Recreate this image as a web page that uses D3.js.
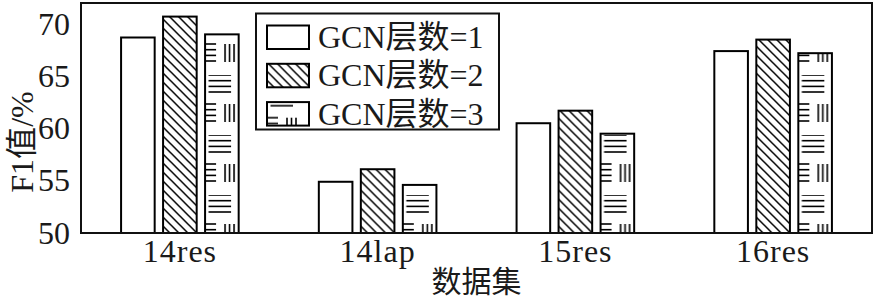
<!DOCTYPE html>
<html>
<head>
<meta charset="utf-8">
<script src="https://cdn.jsdelivr.net/npm/d3@7/dist/d3.min.js"></script>
<style>
  body { margin: 0; background: #fff; }
  svg text { font-family: "Liberation Serif", "Noto Sans CJK SC", serif; fill: #1a1a1a; }
</style>
</head>
<body>
<svg id="chart" width="875" height="300"></svg>
<script>
var categories = ['14res', '14lap', '15res', '16res'];
var series = ['GCN层数=1', 'GCN层数=2', 'GCN层数=3'];
var layer1 = [68.7, 54.9, 60.5, 67.4];
var layer2 = [70.7, 56.1, 61.7, 68.5];
var layer3 = [69.0, 54.6, 59.5, 67.2];
var yTicks = [50, 55, 60, 65, 70];

var values = [layer1, layer2, layer3];
var plotLeft = 81, plotRight = 872, plotTop = 3, plotBottom = 233;

var svg = d3.select('#chart');
var defs = svg.append('defs');

var x0 = d3.scaleBand().domain(categories).range([plotLeft, plotRight]);
var x1 = d3.scaleBand().domain(series).range([-63, 63]).paddingInner(0.2).paddingOuter(0.1);
var y = d3.scaleLinear().domain([50, 72]).range([plotBottom, plotTop]);

// diagonal hatch
var hatch = defs.append('pattern')
    .attr('id', 'hatch')
    .attr('patternUnits', 'userSpaceOnUse')
    .attr('width', 9).attr('height', 9);
hatch.append('path')
    .attr('d', 'M0,0L9,9M-2,7L2,11M7,-2L11,2')
    .attr('stroke', '#000').attr('stroke-width', 1.5);

// line-block pattern (coords are in the local space of the element using it)
function brick(id, x, yOrigin) {
    var p = defs.append('pattern')
        .attr('id', id)
        .attr('patternUnits', 'userSpaceOnUse')
        .attr('x', x).attr('y', yOrigin)
        .attr('width', 80).attr('height', 60);
    var g = p.append('g').attr('stroke', '#000').attr('stroke-width', 1.6);
    [0, 5.7, 11.4, 17].forEach(function(d) {
        g.append('line').attr('x1', 3.5).attr('x2', 26).attr('y1', d).attr('y2', d);
        g.append('line').attr('x1', 0).attr('x2', 11).attr('y1', d + 29).attr('y2', d + 29);
    });
    [20, 24.5, 29].forEach(function(d) {
        g.append('line').attr('x1', d).attr('x2', d).attr('y1', 29).attr('y2', 47);
    });
}

brick('brick', x1(series[2]), 15);
var fills = ['#fff', 'url(#hatch)', 'url(#brick)'];

// bars
var groups = svg.selectAll('.grp').data(categories).enter().append('g')
    .attr('class', 'grp')
    .attr('transform', function(d) { return 'translate(' + (x0(d) + x0.bandwidth() / 2) + ',0)'; });

groups.selectAll('rect')
    .data(function(c, ci) {
        return series.map(function(s, si) { return { s: s, si: si, v: values[si][ci] }; });
    })
    .enter().append('rect')
    .attr('x', function(d) { return x1(d.s); })
    .attr('y', function(d) { return y(d.v); })
    .attr('width', x1.bandwidth())
    .attr('height', function(d) { return y(50) - y(d.v); })
    .attr('fill', function(d) { return fills[d.si]; })
    .attr('stroke', '#000')
    .attr('stroke-width', 2);

// frame
svg.append('rect')
    .attr('x', plotLeft).attr('y', plotTop)
    .attr('width', plotRight - plotLeft).attr('height', plotBottom - plotTop)
    .attr('fill', 'none').attr('stroke', '#111').attr('stroke-width', 2);

// axes
var yAxis = svg.append('g')
    .attr('transform', 'translate(' + plotLeft + ',0)')
    .call(d3.axisLeft(y).tickValues(yTicks).tickSize(0).tickPadding(11));
yAxis.select('.domain').remove();
yAxis.selectAll('text').style('font-size', '32px');

var xAxis = svg.append('g')
    .attr('transform', 'translate(0,' + plotBottom + ')')
    .call(d3.axisBottom(x0).tickSize(0));
xAxis.select('.domain').remove();
xAxis.selectAll('text').style('font-size', '32px').style('letter-spacing', '1px')
    .attr('y', 29).attr('dy', 0);

// axis titles
svg.append('text')
    .attr('x', (plotLeft + plotRight) / 2).attr('y', 292)
    .attr('text-anchor', 'middle').style('font-size', '30px')
    .text('数据集');

svg.append('text')
    .attr('transform', 'translate(33,142) rotate(-90)')
    .attr('text-anchor', 'middle').style('font-size', '32px')
    .text('F1值/%');

// legend
svg.append('rect')
    .attr('x', 256).attr('y', 13.5).attr('width', 243).attr('height', 116)
    .attr('fill', '#fff').attr('stroke', '#111').attr('stroke-width', 2);

brick('brickLegend', 267, 12.1);
var legendFills = ['#fff', 'url(#hatch)', 'url(#brickLegend)'];

var leg = svg.selectAll('.leg').data(series).enter().append('g')
    .attr('class', 'leg')
    .attr('transform', function(d, i) { return 'translate(0,' + (i * 38.3) + ')'; });
leg.append('rect')
    .attr('x', 267).attr('y', 25.5).attr('width', 42).attr('height', 23.5)
    .attr('fill', function(d, i) { return legendFills[i]; })
    .attr('stroke', '#000').attr('stroke-width', 2);
leg.append('text')
    .attr('x', 318).attr('y', 48)
    .style('font-size', '32px')
    .text(function(d) { return d; });
</script>
</body>
</html>
